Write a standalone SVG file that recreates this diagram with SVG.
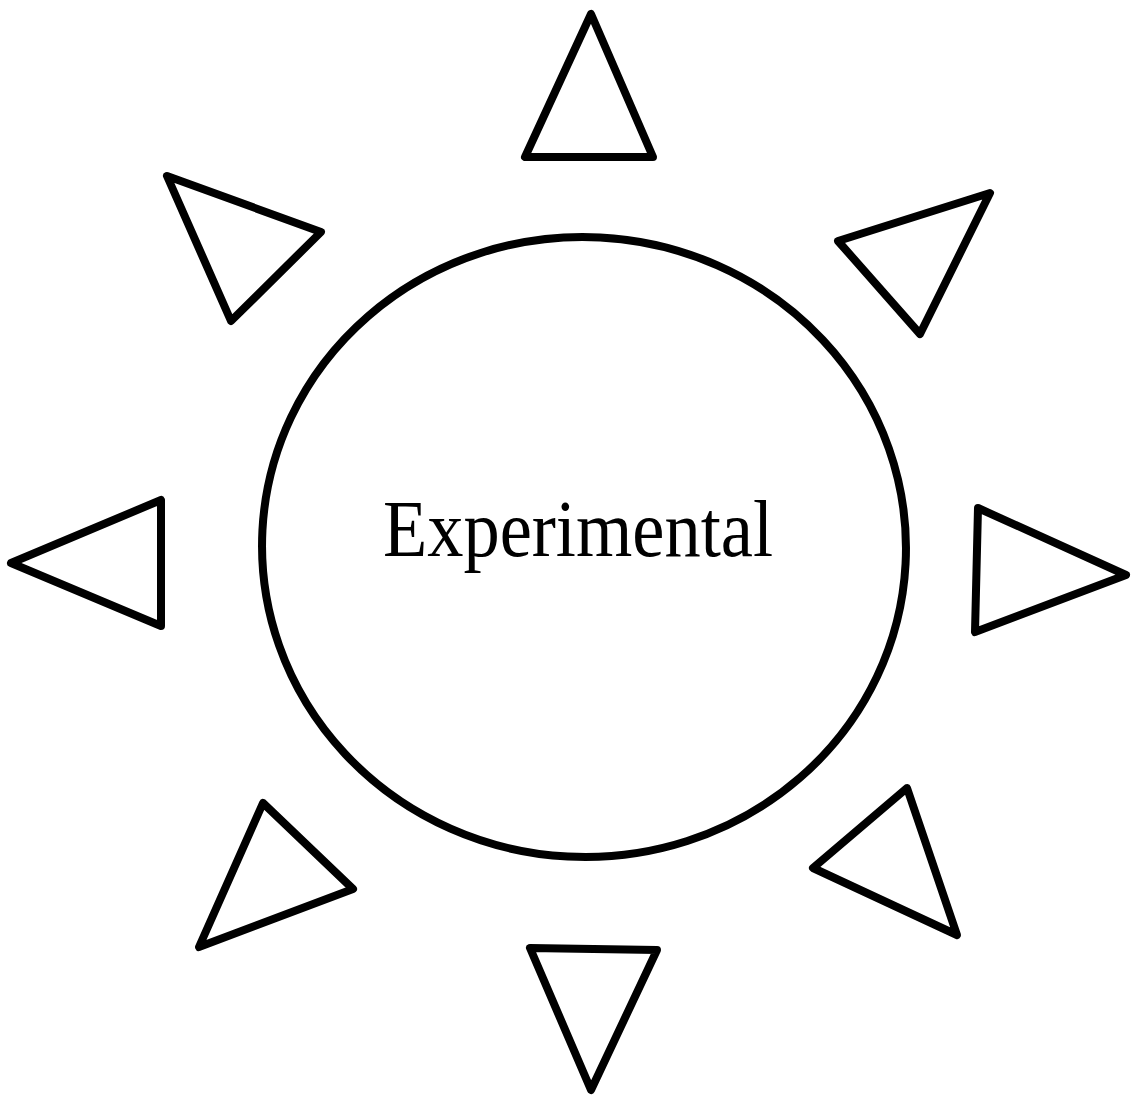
<svg xmlns="http://www.w3.org/2000/svg" width="1133" height="1096" viewBox="0 0 1133 1096">
<style>
.s{fill:none;stroke:#000;stroke-width:8;stroke-linejoin:round;stroke-linecap:round}
.t{font-family:"Liberation Serif",serif;font-size:80px;fill:#000}
</style>
<rect width="1133" height="1096" fill="#fff"/>
<g id="center">
<ellipse class="s" cx="584" cy="547" rx="322" ry="310" transform="rotate(3 584 547)"/>
<text class="t" x="383" y="556" textLength="390" lengthAdjust="spacingAndGlyphs">Experimental</text>
</g>
<g id="tri-top"><polygon class="s" points="591,14 525,157 653,157"/></g>
<g id="tri-upper-left"><polygon class="s" points="167,176 321,232 231,321"/></g>
<g id="tri-upper-right"><polygon class="s" points="990,193 838,241 920,334"/></g>
<g id="tri-left"><polygon class="s" points="11,563 161,500 161,626"/></g>
<g id="tri-right"><polygon class="s" points="978,508 1126,575 975,632"/></g>
<g id="tri-lower-left"><polygon class="s" points="263,803 353,889 199,947"/></g>
<g id="tri-lower-right"><polygon class="s" points="907,788 813,868 957,935"/></g>
<g id="tri-bottom"><polygon class="s" points="530,948 657,950 591,1090"/></g>
<g id="connectors"/>
</svg>
